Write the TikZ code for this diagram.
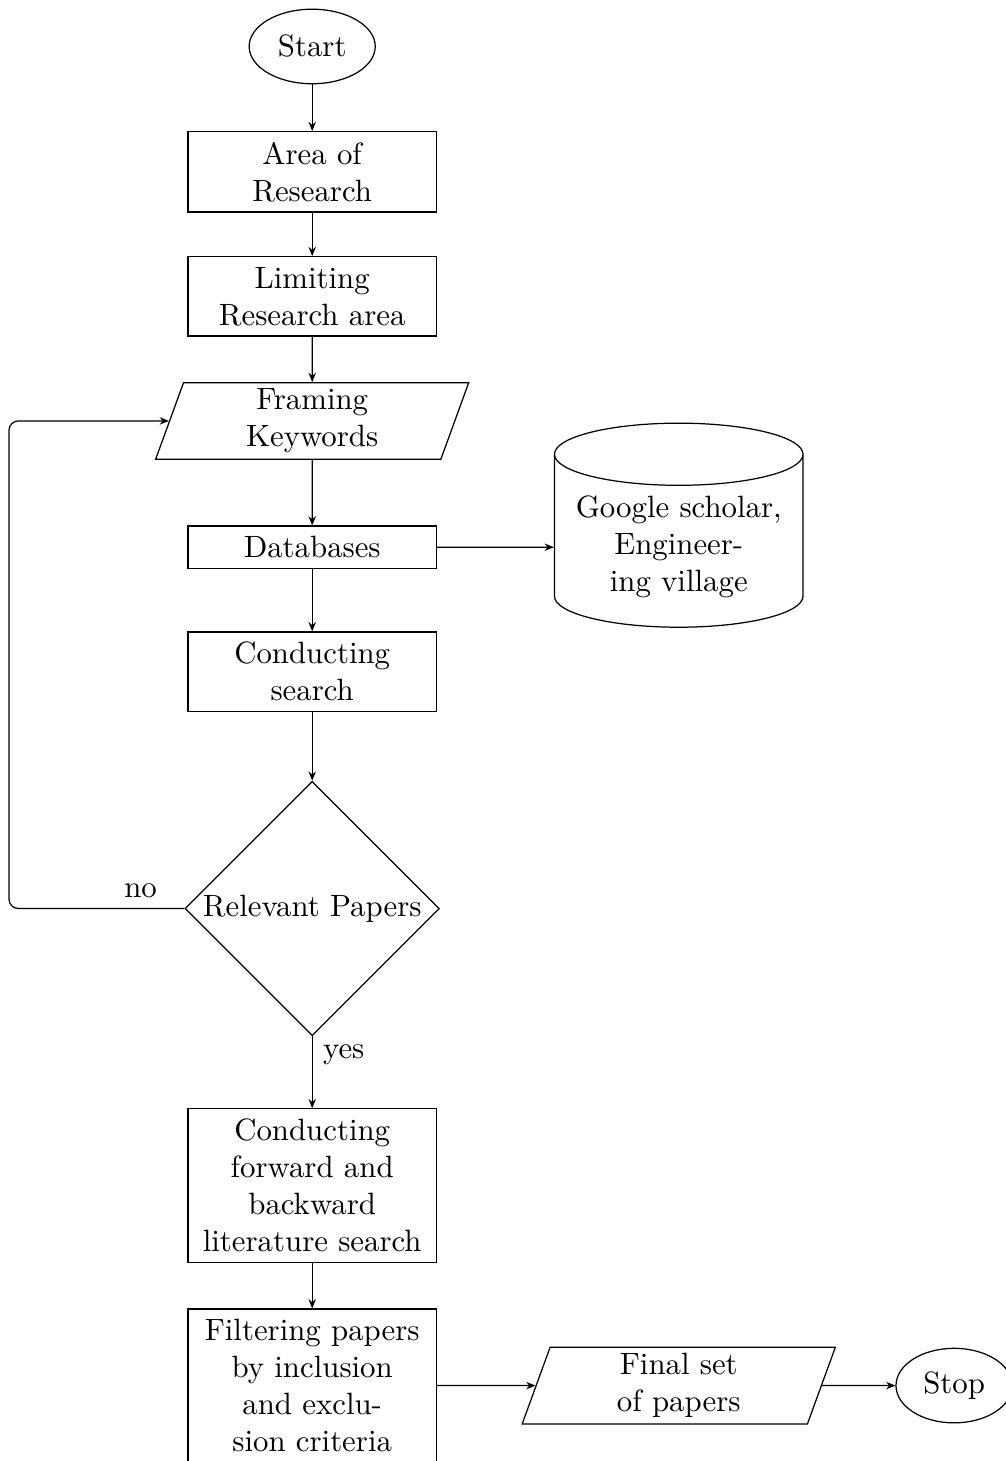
\documentclass[tikz,border=0pt]{standalone}
\usepackage{tikz}
\usetikzlibrary{arrows.meta, positioning, shapes.geometric}

\begin{document}
\begin{tikzpicture}[
  startstop/.style={draw, ellipse, minimum height=0.85cm},
  process/.style={draw, rectangle, text width=2.6cm, align=center},
  io/.style={draw, trapezium, trapezium left angle=70, trapezium right angle=110,
             text width=2.7cm, inner ysep=2pt, align=center},
  decision/.style={draw, diamond, aspect=1, inner sep=0pt, minimum width=2.9cm,
                   minimum height=2.9cm, align=center},
  database/.style={draw, cylinder, shape border rotate=90, aspect=0.25,
                   text width=2.6cm, align=center},
  arrow/.style={-{Stealth[length=3pt, width=2.4pt]}}
]
\useasboundingbox (0,0) rectangle (11.47,-16.66);

\node[startstop] (start) at (3.56,-0.53) {Start};
\node[process] (area) at (3.56,-1.96) {Area of Research};
\node[process] (limit) at (3.56,-3.38) {Limiting Research area};
\node[io] (frame) at (3.56,-4.80) {Framing Keywords};
\node[process] (db) at (3.56,-6.24) {Databases};
\node[database] (sources) at (7.74,-6.24) {Google scholar, Engineering village};
\node[process] (search) at (3.56,-7.66) {Conducting search};
\node[decision] (relevant) at (3.56,-10.36) {Relevant Papers};
\node[process] (forward) at (3.56,-13.52) {Conducting forward and backward literature search};
\node[process] (filter) at (3.56,-15.80) {Filtering papers by inclusion and exclusion criteria};
\node[io] (final) at (7.74,-15.80) {Final set of papers};
\node[startstop] (stop) at (10.88,-15.80) {Stop};

\draw[arrow] (start) -- (area);
\draw[arrow] (area) -- (limit);
\draw[arrow] (limit) -- (frame);
\draw[arrow] (frame) -- (db);
\draw[arrow] (db) -- (sources);
\draw[arrow] (db) -- (search);
\draw[arrow] (search) -- (relevant);
\draw[arrow, rounded corners=3pt] (relevant.west) -- ++(-2,0) node[near start, above] {no} |- (frame.west);
\draw[arrow] (relevant) -- node[near start, right] {yes} (forward);
\draw[arrow] (forward) -- (filter);
\draw[arrow] (filter) -- (final);
\draw[arrow] (final) -- (stop);
\end{tikzpicture}
\end{document}
